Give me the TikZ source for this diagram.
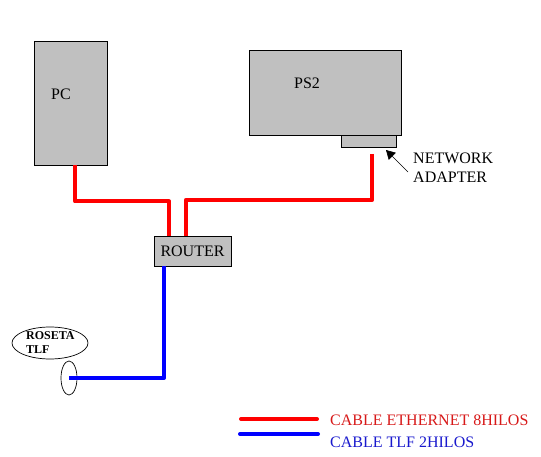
\documentclass[tikz,border=0pt]{standalone}
\usepackage{fontspec}
\setmainfont{Liberation Serif}
\usetikzlibrary{arrows.meta,shapes.geometric}
\definecolor{silver}{RGB}{192,192,192}
\definecolor{legred}{RGB}{215,25,25}
\definecolor{legblue}{RGB}{25,25,205}
\begin{document}
\begin{tikzpicture}[x=1pt,y=-1pt,
  box/.style={draw=black, fill=silver, line width=0.8pt, inner sep=0pt},
  lbl/.style={font=\fontsize{16}{19}\selectfont, inner sep=0pt},
  eth/.style={draw=red, line width=4pt, line join=round},
  tlf/.style={draw=blue, line width=4pt, line join=round},
  oval/.style={draw=black, ellipse, line width=0.7pt, inner sep=0pt}]
\useasboundingbox (0,0) rectangle (541,457);

% devices
\node[box, minimum width=73pt, minimum height=124pt] (pc) at (70.5,103) {};
\node[lbl] (pclbl) at (61,94) {PC};
\node[box, minimum width=152pt, minimum height=85pt] (ps2) at (325,92.5) {};
\node[lbl] (ps2lbl) at (307,83) {PS2};
\node[box, minimum width=55pt, minimum height=12pt, anchor=north west] (adapter) at (341,135) {};
\node[box, lbl, minimum width=77pt, minimum height=30pt] (router) at (192.5,251) {ROUTER};

% roseta
\node[oval, minimum width=76pt, minimum height=32pt] (roseta) at (50,343) {};
\node[font=\bfseries\fontsize{12}{14}\selectfont, align=left, inner sep=0pt, anchor=west] (rosetalbl) at (26,343) {ROSETA\\TLF};
\node[oval, minimum width=16pt, minimum height=34pt] (socket) at (69,378) {};

% network adapter label and arrow
\node[lbl, align=left, anchor=north west] (nalbl) at (413,153) {NETWORK\\ADAPTER};
\coordinate (natail) at (408,172);
\coordinate (natip) at (386,150);
\draw[line width=0.6pt, -{Triangle[length=9pt,width=10pt]}] (natail) -- (natip);

% cables
\draw[eth] ([xshift=4.5pt]pc.south) -- ++(0,36) -| ([xshift=-23.5pt]router.north);
\draw[eth] ([xshift=3.5pt,yshift=-6pt]adapter.south) -- ++(0,46) -| ([xshift=-6.5pt]router.north);
\draw[tlf] ([xshift=-28.5pt]router.south) |- (socket.center);

% legend
\coordinate (e1) at (241,419);
\coordinate (e2) at (317,419);
\coordinate (t1) at (240,434);
\coordinate (t2) at (318,434);
\draw[eth, line cap=round] (e1) -- (e2);
\draw[tlf, line cap=round] (t1) -- (t2);
\node[lbl, text=legred, anchor=west] (ethlbl) at (330,420) {CABLE ETHERNET 8HILOS};
\node[lbl, text=legblue, anchor=west] (tlflbl) at (330,442) {CABLE TLF 2HILOS};
\end{tikzpicture}
\end{document}
